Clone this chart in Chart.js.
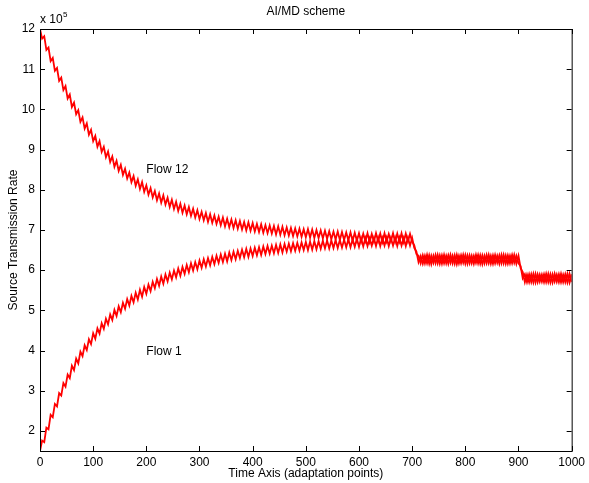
<!DOCTYPE html>
<html>
<head>
<meta charset="utf-8">
<script src="https://cdn.jsdelivr.net/npm/chart.js@4.4.0/dist/chart.umd.min.js"></script>
<style>
  html, body { margin: 0; padding: 0; background: #fff; }
</style>
</head>
<body>
<canvas id="chart" width="589" height="483"></canvas>
<script>
// sampled every 4 adaptation points
const timePoints = Array.from({ length: 251 }, (_, i) => i * 4);

// source rates, in units of 10^5
const flow12Rate = [
  12.00, 11.76, 11.82, 11.48, 11.54, 11.20, 11.28, 10.96, 11.03, 10.71,
  10.79, 10.48, 10.58, 10.27, 10.37, 10.06, 10.17, 9.88, 9.98, 9.69,
  9.80, 9.52, 9.65, 9.37, 9.49, 9.21, 9.34, 9.07, 9.21, 8.94,
  9.07, 8.81, 8.95, 8.69, 8.83, 8.57, 8.72, 8.47, 8.62, 8.37,
  8.52, 8.28, 8.43, 8.19, 8.34, 8.10, 8.26, 8.02, 8.19, 7.95,
  8.11, 7.88, 8.04, 7.81, 7.97, 7.74, 7.91, 7.68, 7.86, 7.63,
  7.80, 7.57, 7.75, 7.52, 7.70, 7.47, 7.65, 7.43, 7.61, 7.39,
  7.57, 7.35, 7.53, 7.31, 7.49, 7.27, 7.45, 7.24, 7.42, 7.20,
  7.39, 7.18, 7.36, 7.15, 7.33, 7.12, 7.31, 7.09, 7.28, 7.07,
  7.26, 7.05, 7.24, 7.03, 7.22, 7.01, 7.20, 6.99, 7.19, 6.98,
  7.17, 6.96, 7.15, 6.95, 7.14, 6.93, 7.12, 6.92, 7.11, 6.91,
  7.10, 6.89, 7.09, 6.88, 7.08, 6.87, 7.06, 6.86, 7.05, 6.85,
  7.04, 6.84, 7.03, 6.83, 7.02, 6.82, 7.02, 6.81, 7.01, 6.80,
  7.00, 6.80, 6.99, 6.79, 6.98, 6.78, 6.97, 6.77, 6.96, 6.76,
  6.96, 6.75, 6.95, 6.75, 6.94, 6.74, 6.94, 6.73, 6.93, 6.73,
  6.92, 6.71, 6.91, 6.72, 6.92, 6.70, 6.90, 6.71, 6.92, 6.72,
  6.91, 6.70, 6.92, 6.71, 6.90, 6.72, 6.92, 6.70, 6.91, 6.71,
  6.92, 6.70, 6.91, 6.71, 6.90, 6.71, 6.62, 6.40, 6.36, 6.17,
  6.37, 6.17, 6.38, 6.16, 6.36, 6.18, 6.38, 6.17, 6.37, 6.16,
  6.38, 6.17, 6.37, 6.18, 6.36, 6.16, 6.38, 6.17, 6.37, 6.18,
  6.38, 6.16, 6.37, 6.17, 6.36, 6.18, 6.38, 6.16, 6.37, 6.17,
  6.38, 6.17, 6.36, 6.16, 6.38, 6.18, 6.37, 6.17, 6.38, 6.16,
  6.37, 6.17, 6.38, 6.18, 6.36, 6.17, 6.10, 5.80, 5.90, 5.70,
  5.90, 5.70, 5.91, 5.69, 5.90, 5.71, 5.89, 5.70, 5.91, 5.70,
  5.90, 5.69, 5.91, 5.71, 5.90, 5.70, 5.89, 5.70, 5.91, 5.69,
  5.90
];

const flow1Rate = [
  1.50, 1.76, 1.72, 2.08, 2.04, 2.40, 2.34, 2.67, 2.61, 2.94,
  2.88, 3.19, 3.10, 3.40, 3.31, 3.62, 3.51, 3.80, 3.68, 3.97,
  3.86, 4.13, 4.01, 4.28, 4.16, 4.43, 4.29, 4.55, 4.42, 4.68,
  4.54, 4.79, 4.65, 4.90, 4.76, 5.01, 4.86, 5.10, 4.95, 5.19,
  5.04, 5.28, 5.12, 5.36, 5.20, 5.44, 5.27, 5.51, 5.34, 5.58,
  5.41, 5.64, 5.48, 5.71, 5.55, 5.78, 5.61, 5.84, 5.66, 5.89,
  5.72, 5.94, 5.77, 5.99, 5.82, 6.04, 5.86, 6.08, 5.91, 6.13,
  5.95, 6.17, 5.99, 6.20, 6.02, 6.24, 6.06, 6.27, 6.09, 6.30,
  6.12, 6.33, 6.15, 6.36, 6.18, 6.39, 6.20, 6.41, 6.22, 6.44,
  6.25, 6.46, 6.27, 6.48, 6.30, 6.51, 6.32, 6.53, 6.33, 6.54,
  6.35, 6.56, 6.37, 6.57, 6.38, 6.59, 6.40, 6.60, 6.41, 6.61,
  6.42, 6.63, 6.43, 6.64, 6.44, 6.65, 6.46, 6.66, 6.47, 6.67,
  6.48, 6.68, 6.49, 6.69, 6.50, 6.70, 6.50, 6.71, 6.51, 6.72,
  6.52, 6.72, 6.53, 6.73, 6.54, 6.74, 6.54, 6.74, 6.55, 6.75,
  6.55, 6.75, 6.56, 6.76, 6.57, 6.77, 6.57, 6.77, 6.58, 6.78,
  6.58, 6.79, 6.59, 6.80, 6.60, 6.79, 6.61, 6.80, 6.60, 6.81,
  6.60, 6.80, 6.61, 6.81, 6.60, 6.80, 6.61, 6.81, 6.60, 6.81,
  6.61, 6.80, 6.60, 6.81, 6.61, 6.80, 6.55, 6.46, 6.20, 6.35,
  6.16, 6.36, 6.17, 6.37, 6.15, 6.36, 6.17, 6.38, 6.16, 6.37,
  6.17, 6.36, 6.16, 6.38, 6.17, 6.37, 6.15, 6.36, 6.17, 6.38,
  6.16, 6.37, 6.17, 6.36, 6.16, 6.38, 6.17, 6.37, 6.15, 6.36,
  6.17, 6.38, 6.16, 6.37, 6.17, 6.36, 6.16, 6.38, 6.17, 6.37,
  6.16, 6.36, 6.17, 6.38, 6.16, 6.36, 6.05, 5.95, 5.70, 5.89,
  5.70, 5.90, 5.69, 5.91, 5.70, 5.89, 5.71, 5.90, 5.70, 5.91,
  5.69, 5.90, 5.71, 5.89, 5.70, 5.91, 5.70, 5.90, 5.69, 5.91,
  5.70
];

const xTicks = [0, 100, 200, 300, 400, 500, 600, 700, 800, 900, 1000];
const yTicks = [2, 3, 4, 5, 6, 7, 8, 9, 10, 11, 12];

const chartTitle = 'AI/MD scheme';
const xTitle = 'Time Axis (adaptation points)';
const yTitle = 'Source Transmission Rate';

const FONT = '"Liberation Sans", Arial, Helvetica, sans-serif';

const toPoints = (vals) => vals.map((v, i) => ({ x: timePoints[i], y: v }));

// MATLAB style box, inward ticks on all sides and the text annotations
const matlabFrame = {
  id: 'matlabFrame',
  afterDraw(chart) {
    const { ctx, chartArea: a, scales: { x, y } } = chart;
    const len = 5;
    ctx.save();
    ctx.strokeStyle = '#000';
    ctx.lineWidth = 1;
    ctx.strokeRect(a.left + 0.5, a.top + 0.5, a.right - a.left, a.bottom - a.top);

    ctx.beginPath();
    x.ticks.forEach(t => {
      const px = Math.round(x.getPixelForValue(t.value)) + 0.5;
      ctx.moveTo(px, a.bottom); ctx.lineTo(px, a.bottom - len);
      ctx.moveTo(px, a.top); ctx.lineTo(px, a.top + len);
    });
    y.ticks.forEach(t => {
      const py = Math.round(y.getPixelForValue(t.value)) + 0.5;
      ctx.moveTo(a.left, py); ctx.lineTo(a.left + len, py);
      ctx.moveTo(a.right, py); ctx.lineTo(a.right - len, py);
    });
    ctx.stroke();

    ctx.fillStyle = '#000';
    ctx.font = '12px ' + FONT;
    ctx.textBaseline = 'middle';
    ctx.textAlign = 'center';
    const midX = (a.left + a.right) / 2;
    ctx.fillText(chartTitle, midX, 12);
    ctx.fillText(xTitle, midX, 474);

    // exponent marker
    ctx.textAlign = 'left';
    ctx.textBaseline = 'alphabetic';
    ctx.fillText('x 10', a.left, 23);
    ctx.font = '8px ' + FONT;
    ctx.fillText('5', a.left + 23, 17);

    // flow labels
    ctx.font = '12px ' + FONT;
    ctx.textBaseline = 'middle';
    ctx.fillText('Flow 12', x.getPixelForValue(200), y.getPixelForValue(8.5));
    ctx.fillText('Flow 1', x.getPixelForValue(200), y.getPixelForValue(3.98));

    ctx.translate(14, (a.top + a.bottom) / 2);
    ctx.rotate(-Math.PI / 2);
    ctx.textAlign = 'center';
    ctx.fillText(yTitle, 0, 0);
    ctx.restore();
  }
};

const ctx = document.getElementById('chart').getContext('2d');
new Chart(ctx, {
  type: 'line',
  data: {
    datasets: [
      {
        label: 'Flow 12',
        data: toPoints(flow12Rate),
        borderColor: 'rgb(255, 0, 0)',
        borderWidth: 1.8,
        pointRadius: 0,
        tension: 0
      },
      {
        label: 'Flow 1',
        data: toPoints(flow1Rate),
        borderColor: 'rgb(255, 0, 0)',
        borderWidth: 1.8,
        pointRadius: 0,
        tension: 0
      }
    ]
  },
  options: {
    responsive: false,
    animation: false,
    layout: { padding: { top: 29, right: 14, left: 0, bottom: 0 } },
    plugins: {
      legend: { display: false },
      tooltip: { enabled: false }
    },
    scales: {
      x: {
        type: 'linear',
        min: 0,
        max: 1000,
        grid: { display: false, drawTicks: false },
        border: { display: false },
        ticks: {
          color: '#000',
          font: { family: FONT, size: 12 },
          padding: 4,
          maxRotation: 0,
          callback: (v) => String(v)
        },
        afterBuildTicks: (scale) => { scale.ticks = xTicks.map(v => ({ value: v })); },
        afterFit: (scale) => { scale.height = 32; }
      },
      y: {
        type: 'linear',
        min: 1.5,
        max: 12,
        grid: { display: false, drawTicks: false },
        border: { display: false },
        ticks: {
          color: '#000',
          font: { family: FONT, size: 12 },
          padding: 5,
          callback: (v) => String(v)
        },
        afterBuildTicks: (scale) => { scale.ticks = yTicks.map(v => ({ value: v })); },
        afterFit: (scale) => { scale.width = 40; }
      }
    }
  },
  plugins: [matlabFrame]
});
</script>
</body>
</html>
